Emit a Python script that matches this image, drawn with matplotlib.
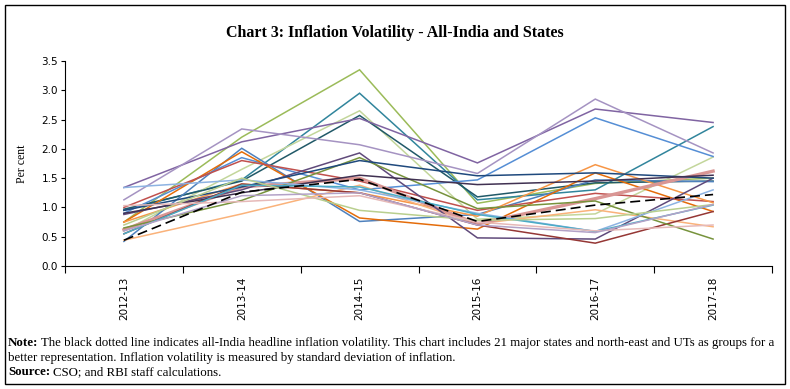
import matplotlib
matplotlib.use("Agg")
import matplotlib.pyplot as plt
from matplotlib.patches import Rectangle
import numpy as np

# years on the x axis
years = ["2012-13", "2013-14", "2014-15", "2015-16", "2016-17", "2017-18"]

# all-India headline (dashed black)
all_india = [0.44, 1.26, 1.48, 0.76, 1.04, 1.22]

# state / group series
s01 = [0.75, 2.20, 3.35, 1.07, 1.41, 1.50]
s02 = [0.95, 1.47, 2.95, 1.13, 1.30, 2.38]
s03 = [0.60, 1.65, 2.65, 0.80, 0.89, 1.86]
s04 = [0.97, 1.45, 2.57, 1.18, 1.42, 1.45]
s05 = [1.34, 2.12, 2.52, 1.76, 2.68, 2.45]
s06 = [1.13, 2.34, 2.07, 1.58, 2.85, 1.93]
s07 = [0.42, 2.01, 0.76, 0.88, 1.47, 1.44]
s08 = [0.90, 1.85, 1.30, 1.47, 2.53, 1.87]
s09 = [0.75, 1.95, 0.82, 0.63, 1.59, 0.93]
s10 = [1.00, 1.80, 1.45, 0.95, 1.24, 1.10]
s11 = [0.75, 1.40, 1.25, 0.85, 1.73, 1.08]
s12 = [0.44, 0.89, 1.38, 0.72, 0.96, 0.67]
s13 = [0.62, 1.35, 1.50, 0.72, 1.15, 1.62]
s14 = [0.88, 1.30, 1.93, 0.48, 0.46, 1.50]
s15 = [0.55, 1.40, 1.25, 0.70, 0.39, 0.93]
s16 = [0.65, 1.12, 1.85, 0.98, 1.11, 0.46]
s17 = [0.95, 1.35, 1.80, 1.54, 1.59, 1.50]
s18 = [0.90, 1.25, 1.55, 1.39, 1.45, 1.55]
s19 = [1.34, 1.47, 1.30, 0.90, 0.59, 1.30]
s20 = [0.55, 1.38, 1.35, 0.88, 0.59, 1.04]
s21 = [0.70, 1.50, 0.95, 0.78, 0.81, 1.05]
s22 = [1.03, 1.10, 1.20, 0.75, 0.60, 0.70]
s23 = [0.60, 1.20, 1.25, 0.70, 0.57, 1.05]

states = [s01, s02, s03, s04, s05, s06, s07, s08, s09, s10, s11, s12,
          s13, s14, s15, s16, s17, s18, s19, s20, s21, s22, s23]
colours = ["#9BBB59", "#31859C", "#C3D69B", "#215968", "#8064A2", "#A593C2",
           "#4F81BD", "#558ED5", "#E46C0A", "#C0504D", "#F79646", "#FAB27A",
           "#D99694", "#604A7B", "#953735", "#77933C", "#1F497D", "#403152",
           "#8DB3E2", "#4BACC6", "#B9CF8E", "#E6B9B8", "#B3A2C7"]
widths = [1.1] * len(states)
widths[12] = 2.4  # the thick pink one

title = "Chart 3: Inflation Volatility - All-India and States"
note1 = ("The black dotted line indicates all-India headline inflation volatility. "
         "This chart includes 21 major states and north-east and UTs as groups for a")
note2 = "better representation. Inflation volatility is measured by standard deviation of inflation."
source = "CSO; and RBI staff calculations."

fig = plt.figure(figsize=(7.9, 3.89), dpi=100)
ax = fig.add_axes([65 / 790, 1 - 266 / 389, (772 - 65) / 790, (266 - 61) / 389])

x = np.arange(len(years))
for vals, c, w in zip(states, colours, widths):
    ax.plot(x, vals, color=c, lw=w, solid_joinstyle="miter")
ax.plot(x, all_india, color="black", lw=1.2, dashes=(6, 3))

ax.set_xlim(-0.5, len(years) - 0.5)
ax.set_ylim(0, 3.5)
ax.set_yticks(np.arange(0, 3.51, 0.5))
ax.set_yticklabels([f"{v:.1f}" for v in np.arange(0, 3.51, 0.5)], fontsize=7.5,
                   family="DejaVu Sans")
ax.set_xticks(np.arange(-0.5, len(years)), labels=[])
ax.set_xticks(x, labels=years, minor=True)
ax.tick_params(axis="x", which="major", length=5, direction="out", width=0.8)
ax.tick_params(axis="x", which="minor", length=0, pad=8, labelrotation=90, labelsize=7.5)
ax.tick_params(axis="y", length=3, width=0.8, pad=2)
ax.spines["top"].set_visible(False)
ax.spines["right"].set_visible(False)
ax.spines["left"].set_linewidth(0.8)
ax.spines["bottom"].set_linewidth(0.8)
ax.set_ylabel("Per cent", family="Liberation Serif", fontsize=8.5, labelpad=10)

fig.text(0.5, 1 - 33 / 389, title, ha="center", va="center",
         family="Liberation Serif", fontweight="bold", fontsize=11.5)

# note and source lines: bold lead word followed by plain text
renderer = fig.canvas.get_renderer()
fs = 9.3
def lead_line(y, lead, rest):
    t = fig.text(8 / 790, y, lead, family="Liberation Serif", fontweight="bold",
                 fontsize=fs, va="center")
    bb = t.get_window_extent(renderer)
    fig.text(bb.x1 / 790 + 3 / 790, y, rest, family="Liberation Serif",
             fontsize=fs, va="center")

lead_line(1 - 343 / 389, "Note:", note1)
fig.text(8 / 790, 1 - 358 / 389, note2, family="Liberation Serif",
         fontsize=fs, va="center")
lead_line(1 - 372 / 389, "Source:", source)

fig.patches.append(Rectangle((5 / 790, 5 / 389), 780 / 790, 379 / 389,
                             transform=fig.transFigure, fill=False,
                             edgecolor="black", lw=1.0))

fig.savefig("out.png", dpi=100)
